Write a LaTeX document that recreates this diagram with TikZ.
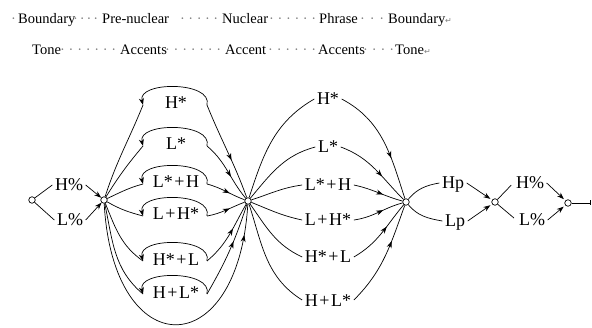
\documentclass[tikz,border=0pt]{standalone}
\usepackage{fontspec}
\setmainfont{Liberation Serif}
\newfontfamily\symfont{DejaVu Sans}
\usetikzlibrary{arrows.meta,decorations.markings}
\newcommand\pl{\kern1.6pt+\kern1.6pt}
\tikzset{
  state/.style={circle,draw,line width=0.7pt,inner sep=0pt,minimum size=6.5pt,fill=white},
  lab/.style={inner sep=2.5pt,font=\fontsize{18}{18}\selectfont,text height=12pt,text depth=0pt},
  conn/.style={line width=0.7pt},
  tip/.style={-{Stealth[length=7pt,width=5pt]}},
  midtip/.style={postaction={decorate},decoration={markings,
      mark=at position #1 with {\arrow{Stealth[length=7pt,width=5pt]}}}},
  hdr/.style={anchor=base west,inner sep=0pt,font=\fontsize{14.5}{14.5}\selectfont},
  dotrun/.style={anchor=base west,inner sep=0pt,font=\fontsize{14.5}{14.5}\selectfont,text=gray},
  ret/.style={anchor=base west,inner sep=0pt,font=\symfont\fontsize{8}{8}\selectfont,text=gray}
}
\begin{document}
\begin{tikzpicture}[x=1pt,y=1pt]
\useasboundingbox (0,0) rectangle (592,327);

% ---- header lines ----
\node[dotrun] (d0) at (11,303) {·};
\node[hdr] (h1) at (18,303) {Boundary};
\node[dotrun] (d1) at (73,303) {\hbox to 25pt{·\hfill·\hfill·\hfill·}};
\node[hdr] (h2) at (102,303) {Pre-nuclear};
\node[dotrun] (d2) at (180,303) {\hbox to 38pt{·\hfill·\hfill·\hfill·\hfill·}};
\node[hdr] (h3) at (222,303) {Nuclear};
\node[dotrun] (d3) at (269,303) {\hbox to 47pt{·\hfill·\hfill·\hfill·\hfill·\hfill·}};
\node[hdr] (h4) at (319,303) {Phrase};
\node[dotrun] (d4) at (360,303) {\hbox to 24pt{·\hfill·\hfill·}};
\node[hdr] (h5) at (388,303) {Boundary};
\node[ret] (r1) at (445,303) {↵};

\node[hdr] (t1) at (32,272) {Tone};
\node[dotrun] (e1) at (60,272) {\hbox to 56pt{·\hfill·\hfill·\hfill·\hfill·\hfill·\hfill·}};
\node[hdr] (t2) at (120,272) {Accents};
\node[dotrun] (e2) at (165,272) {\hbox to 56pt{·\hfill·\hfill·\hfill·\hfill·\hfill·\hfill·}};
\node[hdr] (t3) at (225,272) {Accent};
\node[dotrun] (e3) at (268,272) {\hbox to 48pt{·\hfill·\hfill·\hfill·\hfill·\hfill·}};
\node[hdr] (t4) at (318,272) {Accents};
\node[dotrun] (e4) at (363,272) {\hbox to 31pt{·\hfill·\hfill·\hfill·}};
\node[hdr] (t5) at (395,272) {Tone};
\node[ret] (r2) at (424,272) {↵};

% ---- states ----
\node[state] (n0) at (32,127) {};
\node[state] (n1) at (104,127) {};
\node[state] (n2) at (248,126) {};
\node[state] (n3) at (406,125) {};
\node[state] (n4) at (495,125) {};
\node[state] (n5) at (568,124) {};
\coordinate (out) at (590.5,124);

% ---- initial boundary tone ----
\node[lab] (bh) at (69,142) {H\%};
\node[lab] (bl) at (70,107) {L\%};
\draw[conn] (n0) -- (bh.west);
\draw[conn] (n0) -- (bl.west);
\draw[conn,tip] (bh.east) -- (n1);
\draw[conn,tip] (bl.east) -- (n1);

% ---- pre-nuclear accents (repeatable) ----
\foreach \i/\y/\t in {1/224/H*, 2/183/L*, 3/145/L*\pl H, 4/113/L\pl H*, 5/68/H*\pl L, 6/35/H\pl L*}{
  \node[lab] (pa\i) at (176,\y) {\t};
  \coordinate (pl\i) at (143,\y-2);
  \coordinate (pr\i) at (207,\y-2);
  \draw[conn,tip] (pr\i) .. controls +(6,24) and +(-6,24) .. (pl\i);
}
\draw[conn] (n1) to[out=72,in=-112] (pl1);
\draw[conn] (n1) to[out=58,in=-130] (pl2);
\draw[conn] (n1) to[out=25,in=-165] (pl3);
\draw[conn] (n1) to[out=-30,in=165] (pl4);
\draw[conn] (n1) to[out=-68,in=145] (pl5);
\draw[conn] (n1) to[out=-78,in=140] (pl6);

\draw[conn,midtip=0.6] (pr1) to[out=-68,in=110] (n2);
\draw[conn,midtip=0.6] (pr2) to[out=-40,in=130] (n2);
\draw[conn,midtip=0.6] (pr3) to[out=-15,in=160] (n2);
\draw[conn,midtip=0.6] (pr4) to[out=10,in=-160] (n2);
\draw[conn,midtip=0.6] (pr5) to[out=40,in=-120] (n2);
\draw[conn,midtip=0.6] (pr6) to[out=60,in=-108] (n2);

% skipping the pre-nuclear accents
\draw[conn,midtip=0.9] (n1) .. controls (113,-38) and (238,-38) .. (n2);

% ---- nuclear accent ----
\node[lab] (na1) at (328,228) {H*};
\node[lab] (na2) at (328,180) {L*};
\node[lab] (na3) at (328,142) {L*\pl H};
\node[lab] (na4) at (328,107) {L\pl H*};
\node[lab] (na5) at (328,70) {H*\pl L};
\node[lab] (na6) at (328,27) {H\pl L*};

\draw[conn] (n2) to[out=72,in=-150] (na1.west);
\draw[conn] (n2) to[out=50,in=-165] (na2.west);
\draw[conn] (n2) to[out=18,in=-172] (na3.west);
\draw[conn] (n2) to[out=-22,in=168] (na4.west);
\draw[conn] (n2) to[out=-55,in=155] (na5.west);
\draw[conn] (n2) to[out=-72,in=148] (na6.west);

\draw[conn,midtip=0.65] (na1.east) to[out=-28,in=108] (n3);
\draw[conn,midtip=0.62] (na2.east) to[out=-20,in=135] (n3);
\draw[conn,midtip=0.6] (na3.east) to[out=-12,in=165] (n3);
\draw[conn,midtip=0.6] (na4.east) to[out=8,in=-165] (n3);
\draw[conn,midtip=0.62] (na5.east) to[out=30,in=-130] (n3);
\draw[conn,midtip=0.65] (na6.east) to[out=45,in=-110] (n3);

% ---- phrase accent ----
\node[lab] (hp) at (453,144) {Hp};
\node[lab] (lp) at (455,106) {Lp};
\draw[conn] (n3) to[out=50,in=-170] (hp.west);
\draw[conn] (n3) to[out=-50,in=170] (lp.west);
\draw[conn,tip,shorten >=2pt] (hp.east) -- (n4);
\draw[conn,tip,shorten >=2pt] (lp.east) -- (n4);

% ---- final boundary tone ----
\node[lab] (eh) at (530,144) {H\%};
\node[lab] (el) at (532,107) {L\%};
\draw[conn,shorten >=3pt] (n4) -- (eh.west);
\draw[conn,shorten >=3pt] (n4) -- (el.west);
\draw[conn,tip,shorten >=2pt] (eh.east) -- (n5);
\draw[conn,tip,shorten >=2pt] (el.east) -- (n5);
\draw[conn,-{Bar[width=5pt]}] (n5) -- (out);
\end{tikzpicture}
\end{document}
